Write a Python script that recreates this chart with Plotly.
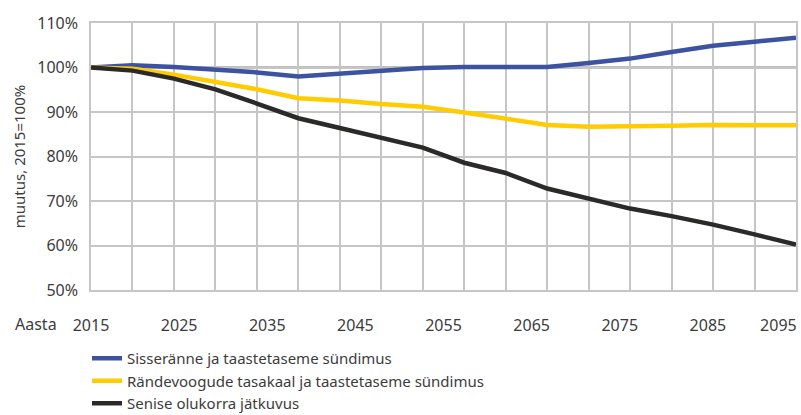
import plotly.graph_objects as go

# Projection years (five-year steps) and population change, 2015 = 100%
years = [2015, 2020, 2025, 2030, 2035, 2040, 2045, 2050, 2055,
         2060, 2065, 2070, 2075, 2080, 2085, 2090, 2095, 2100]

sisseranne = [100.0, 100.5, 100.1, 99.6, 98.9, 98.0, 98.7, 99.4, 99.9,
              100.1, 100.2, 100.1, 101.0, 102.0, 103.5, 104.9, 105.8, 106.7]
tasakaal = [100.0, 99.7, 98.4, 96.8, 95.1, 93.1, 92.6, 91.8, 91.2,
            89.9, 88.5, 87.1, 86.7, 86.7, 86.9, 87.1, 87.0, 87.0]
senine = [100.0, 99.3, 97.5, 95.1, 91.9, 88.6, 86.4, 84.2, 82.0,
          78.6, 76.3, 72.8, 70.6, 68.3, 66.6, 64.7, 62.5, 60.2]

series_names = ["Sisseränne ja taastetaseme sündimus",
                "Rändevoogude tasakaal ja taastetaseme sündimus",
                "Senise olukorra jätkuvus"]
series_colors = ["#3d52a1", "#ffcc00", "#2b2a29"]

# Year labels shown under the plot
label_years = [2015, 2025, 2035, 2045, 2055, 2065, 2075, 2085, 2095]
label_pos = [2015, 2025, 2035, 2045, 2055, 2065, 2075, 2085, 2093]

y_ticks = [50, 60, 70, 80, 90, 100, 110]

FONT = "'Noto Sans', Lato, sans-serif"
TEXT = "#3c3c3c"
GRID = "#c6c6c6"

fig = go.Figure()
for name, vals, col in zip(series_names, [sisseranne, tasakaal, senine], series_colors):
    fig.add_trace(go.Scatter(x=years, y=vals, name=name, mode="lines",
                             line=dict(color=col, width=4.5)))

# carrier trace for the label axis
fig.add_trace(go.Scatter(x=[label_years[0], label_years[-1]], y=[None, None],
                         xaxis="x2", showlegend=False, hoverinfo="skip"))

fig.add_shape(type="line", xref="paper", x0=0, x1=1, yref="y", y0=100, y1=100,
              line=dict(color="#bdbdbd", width=3), layer="below")

fig.update_layout(
    width=801, height=415,
    margin=dict(l=91, r=5, t=23, b=125, autoexpand=False),
    paper_bgcolor="white", plot_bgcolor="white",
    font=dict(family=FONT, size=16, color=TEXT),
    xaxis=dict(range=[2015, 2100], tick0=2015, dtick=5, showticklabels=False,
               showgrid=True, gridcolor=GRID, gridwidth=1.5, zeroline=False,
               showline=True, linecolor=GRID, linewidth=1.5, mirror=True,
               ticks=""),
    xaxis2=dict(overlaying="x", side="bottom", range=[2015, 2095],
                tickmode="array", tickvals=label_pos,
                ticktext=[str(y) for y in label_years],
                showgrid=False, zeroline=False, showline=False, ticks="",
                ticklabelstandoff=24, tickfont=dict(size=16, color=TEXT)),
    yaxis=dict(range=[50, 110], tickmode="array", tickvals=y_ticks,
               ticktext=[f"{v}%" for v in y_ticks],
               showgrid=True, gridcolor=GRID, gridwidth=1.5, zeroline=False,
               showline=True, linecolor=GRID, linewidth=1.5, mirror=True,
               ticks="", ticklabelstandoff=8,
               title=dict(text="muutus, 2015=100%", standoff=8,
                          font=dict(size=15, color=TEXT))),
    legend=dict(x=(87 - 91) / 705, y=1 - 342 / 415, xref="paper", yref="container",
                xanchor="left", yanchor="top",
                orientation="v", font=dict(size=15, color=TEXT),
                bgcolor="rgba(0,0,0,0)", tracegroupgap=0),
    showlegend=True,
    annotations=[dict(text="Aasta", xref="paper", yref="paper",
                      x=-0.111, y=-0.126, xanchor="left", yanchor="middle",
                      showarrow=False, font=dict(size=16, color=TEXT))],
)

fig.write_html("out.html")
